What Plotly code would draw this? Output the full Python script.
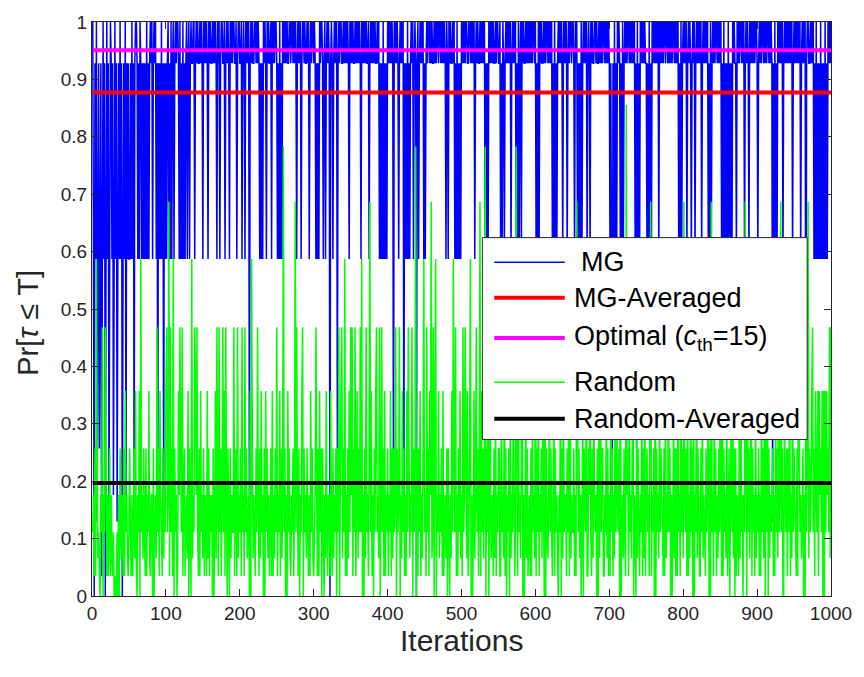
import numpy as np
import plotly.graph_objects as go

# Discrete probability levels taken by the per-iteration curves
LEVELS = [0.0, 0.035, 0.066, 0.111, 0.130, 0.176, 0.257, 0.357, 0.468,
          0.587, 0.687, 0.783, 0.856, 0.928, 1.0]
CODES = "0123456789abcde"

# MG: one code per iteration (index into LEVELS), 50 iterations per row
MG_CODES = [
    "e90d9e49d6 9d19e9d09e 9d49ed9d59 e9d49d9e9d 09d9e4d9d9",
    "9d9e9d5dee d9d9ed9d9d 9d9e9d9ded e9dede9d4d 9d9e9d4d9d",
    "9de9d9e9de 9dedeed9e9 d9e9d9de9d e9deddee9d ededdeded9",
    "ededed9ede ddededed9e de9deedde9 deded9eded eedde9deed",
    "de9ded9ede de4dededde ededed9d9d 9eded9eded de9ededeed",
    "9d9e9d9ede dededdeede ededed9ede de9deededd ede9dedeed",
    "ed9d9d9ede ed9de9dede d0ded9dede e6dedeedde dededed9ed",
    "ededdedede ded9ededed edde9deded ededdede9d 9d9e9d9d9e",
    "dededed4ed eded9deded e4d9d9e9d9 dede9ded0d e9dedede9d",
    "9dedeedede ddededeede edededed9e d9ededdede 9d9e9d9d9e",
    "dededeedde ededede9de deddededed e9d9d9eded ededdedeed",
    "de9d9ed9de dedede9ded ede9d9e9de 9ededdeded edededeede",
    "9d9e9ededd ededeedede de9d9e9d9d ededed9ede de9dedeede",
    "ed9ede9d9d 9e9dedede9 ded9ededde ededdedede deedededed",
    "9d94d9e9d9 eded9d9e9d ededeedede dede9d6e9d 9ededededd",
    "9d9e9d9ede dedede9ede dedeedeede dededeeded ede9d9e9de",
    "dede9deded 9dede9dede dede9deded ede9d9e9de dedeededed",
    "e9d9e9d9d9 e9d9d9eded d9ededeede de9deded9e dedededeed",
    "9dededeede dedeededed 4d9e9d9ede dede9deded ededede9de",
    "dededede9d edede4deed dedede9d9e 9d9d9e9d9d 9e9d9edede",
]

# Random selection: one code per iteration, 50 iterations per row
RANDOM_CODES = [
    "3516196231 0538053861 5136152130 1003050632 5161735213",
    "6315136271 0537093526 3161537215 5060352836 1753162537",
    "835a183619 0635027586 3815613527 0630925387 5831617352",
    "6153172615 3506037285 1836158371 8506306253 3815618253",
    "6183518362 3507096253 1638516273 5060736251 3617152638",
    "15371625b3 6050736215 3615a38516 0537806352 6315173621",
    "3585161736 0630527315 5173162536 0638057826 3915162738",
    "5816381572 6383905062 83516a3715 0637835280 5836171536",
    "1537162635 8063580527 3615173862 5380635b06 1637152693",
    "51836175a2 3806905372 5361713526 0630527396 3815163725",
    "1835862713 6905037258 3615a17362 5b06380572 3516271536",
    "6117352816 0536072537 513b617352 6805037261 3516173528",
    "1637153627 5080632573 6315716352 0538062735 5163718253",
    "36151a7362 5037065381 1658316275 3506072836 6115372615",
    "1736152837 5360803526 31c5617352 6805307263 1537162815",
    "63517a1536 0806352736 5316172538 3605037261 6183517362",
    "a536171528 3607053826 5116372531 6358060a35 1736152637",
    "5181635271 3605738260 6153172835 053a607362 5816351725",
    "3615183627 0738062535 6151736283 5a36007536 1638152736",
    "5316187352 36050736a2 6357836175 3717563707 0737563828",
]

MG_AVERAGED = 0.877
OPTIMAL_CTH15 = 0.951
RANDOM_AVERAGED = 0.197

X_TICKS = [0, 100, 200, 300, 400, 500, 600, 700, 800, 900, 1000]
Y_TICKS = [0, 0.1, 0.2, 0.3, 0.4, 0.5, 0.6, 0.7, 0.8, 0.9, 1.0]
Y_TICK_TEXT = ["0", "0.1", "0.2", "0.3", "0.4", "0.5", "0.6", "0.7", "0.8", "0.9", "1"]


def decode(rows):
    chars = "".join(rows).replace(" ", "")
    return np.array([LEVELS[CODES.index(c)] for c in chars])


mg = decode(MG_CODES)
rnd = decode(RANDOM_CODES)
iterations = np.arange(1, len(mg) + 1)

FONT = "Liberation Sans, Arial, Helvetica, sans-serif"
INK = "#262626"

W, H = 864, 677
L, R, T, B = 92, 28, 13, 81
PLOT_W, PLOT_H = W - L - R, H - T - B


def px(x):
    return (x - L) / PLOT_W


def py(y):
    return (H - B - y) / PLOT_H


series = [
    dict(name="\u00a0MG", x=iterations, y=mg, color="#0000FF", width=1.5),
    dict(name="MG-Averaged", x=iterations, y=np.full(len(iterations), MG_AVERAGED),
         color="#FF0000", width=4),
    dict(name="Optimal (<i>c</i><sub>th</sub>=15)", x=iterations,
         y=np.full(len(iterations), OPTIMAL_CTH15), color="#FF00FF", width=4),
    dict(name="Random", x=np.arange(1, len(rnd) + 1), y=rnd, color="#00FF00", width=1.5),
    dict(name="Random-Averaged", x=iterations, y=np.full(len(iterations), RANDOM_AVERAGED),
         color="#000000", width=4),
]

fig = go.Figure()
for s in series:
    fig.add_trace(go.Scatter(x=s["x"], y=s["y"], mode="lines", name=s["name"],
                             line=dict(color=s["color"], width=s["width"], simplify=False),
                             showlegend=False))

axis_common = dict(
    showgrid=False, zeroline=False, showline=True, linecolor=INK, linewidth=1,
    mirror="ticks", ticks="inside", ticklen=7, tickwidth=1, tickcolor=INK,
    tickfont=dict(family=FONT, size=19, color=INK),
)

# Legend box drawn in paper coordinates, entries stacked inside it
shapes = [dict(type="rect", xref="paper", yref="paper",
               x0=px(485), x1=px(812), y0=py(437), y1=py(232),
               fillcolor="white", line=dict(color=INK, width=1), layer="above")]
annotations = []
entry_rows = [257, 293, 334, 379, 416]
text_left = [582, 575, 575, 575, 575]
for s, yrow, tx in zip(series, entry_rows, text_left):
    shapes.append(dict(type="line", xref="paper", yref="paper",
                       x0=px(497), x1=px(568), y0=py(yrow), y1=py(yrow),
                       line=dict(color=s["color"], width=s["width"]), layer="above"))
    annotations.append(dict(xref="paper", yref="paper", x=px(tx), y=py(yrow),
                            xanchor="left", yanchor="middle", showarrow=False,
                            text=s["name"].replace("\u00a0", ""),
                            font=dict(family=FONT, size=27, color="#000000")))

annotations.append(dict(xref="paper", yref="paper", x=0.5, y=py(641),
                        xanchor="center", yanchor="middle", showarrow=False,
                        text="Iterations", font=dict(family=FONT, size=30, color=INK)))
annotations.append(dict(xref="paper", yref="paper", x=px(28), y=py(318),
                        xanchor="center", yanchor="middle", showarrow=False,
                        textangle=-90, text="Pr[<i>\u03c4</i> \u2264 T]",
                        font=dict(family=FONT, size=29, color=INK)))

fig.update_layout(
    width=W, height=H,
    margin=dict(l=L, r=R, t=T, b=B),
    paper_bgcolor="white", plot_bgcolor="white",
    font=dict(family=FONT, color=INK),
    xaxis=dict(range=[0, 1000], tickvals=X_TICKS, **axis_common),
    yaxis=dict(range=[0, 1], tickvals=Y_TICKS, ticktext=Y_TICK_TEXT, **axis_common),
    shapes=shapes,
    annotations=annotations,
    showlegend=False,
)

fig.write_html("out.html")
